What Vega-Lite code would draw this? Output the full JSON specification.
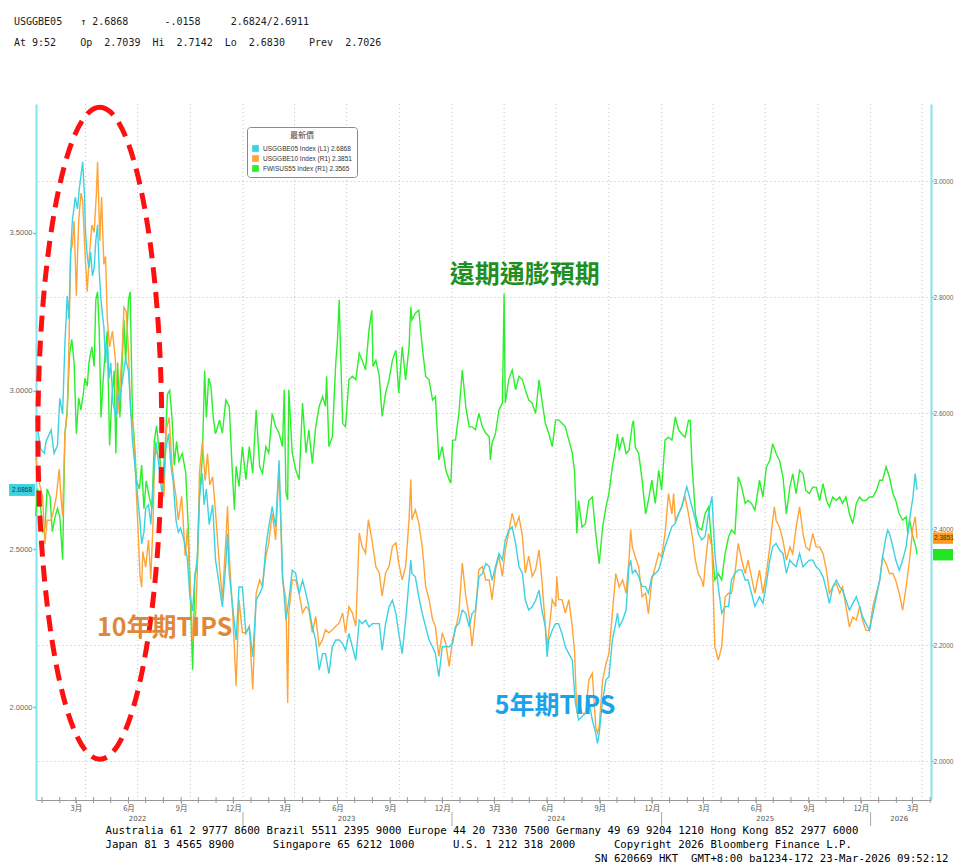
{
"$schema":"https://vega.github.io/schema/vega-lite/v6.json",
"width":895,"height":696,
"autosize":{"type":"none"},
"padding":{"left":36,"top":104,"right":24,"bottom":65},
"background":"#ffffff",
"config":{"view":{"stroke":null},"font":"DejaVu Sans"},
"title":{"text":"USGGBE05\u00a0\u00a0\u00a0↑\u00a02.6868\u00a0\u00a0\u00a0\u00a0\u00a0\u00a0-.0158\u00a0\u00a0\u00a0\u00a0\u00a02.6824/2.6911","subtitle":"At\u00a09:52\u00a0\u00a0\u00a0\u00a0Op\u00a0\u00a02.7039\u00a0\u00a0Hi\u00a0\u00a02.7142\u00a0\u00a0Lo\u00a0\u00a02.6830\u00a0\u00a0\u00a0\u00a0Prev\u00a0\u00a02.7026","anchor":"start","frame":"group","dx":-22,"offset":49,"font":"DejaVu Sans Mono","fontSize":10,"fontWeight":"normal","color":"#1a1a1a","subtitleFont":"DejaVu Sans Mono","subtitleFontSize":10,"subtitleColor":"#1a1a1a","subtitlePadding":11},
"datasets":{
"q":[{"d":"2022-04-01"},{"d":"2022-07-01"},{"d":"2022-10-01"},{"d":"2023-01-01"},{"d":"2023-04-01"},{"d":"2023-07-01"},{"d":"2023-10-01"},{"d":"2024-01-01"},{"d":"2024-04-01"},{"d":"2024-07-01"},{"d":"2024-10-01"},{"d":"2025-01-01"},{"d":"2025-04-01"},{"d":"2025-07-01"},{"d":"2025-10-01"},{"d":"2026-01-01"},{"d":"2026-04-01"}],
"ys":[{"d":"2023-01-01","a":1.9129,"b":1.8888},{"d":"2024-01-01","a":1.9129,"b":1.8888},{"d":"2025-01-01","a":1.9129,"b":1.8888},{"d":"2026-01-01","a":1.9129,"b":1.8888}],
"m":[{"d":"2022-01-15"},{"d":"2022-02-15"},{"d":"2022-03-15"},{"d":"2022-04-15"},{"d":"2022-05-15"},{"d":"2022-06-15"},{"d":"2022-07-15"},{"d":"2022-08-15"},{"d":"2022-09-15"},{"d":"2022-10-15"},{"d":"2022-11-15"},{"d":"2022-12-15"},{"d":"2023-01-15"},{"d":"2023-02-15"},{"d":"2023-03-15"},{"d":"2023-04-15"},{"d":"2023-05-15"},{"d":"2023-06-15"},{"d":"2023-07-15"},{"d":"2023-08-15"},{"d":"2023-09-15"},{"d":"2023-10-15"},{"d":"2023-11-15"},{"d":"2023-12-15"},{"d":"2024-01-15"},{"d":"2024-02-15"},{"d":"2024-03-15"},{"d":"2024-04-15"},{"d":"2024-05-15"},{"d":"2024-06-15"},{"d":"2024-07-15"},{"d":"2024-08-15"},{"d":"2024-09-15"},{"d":"2024-10-15"},{"d":"2024-11-15"},{"d":"2024-12-15"},{"d":"2025-01-15"},{"d":"2025-02-15"},{"d":"2025-03-15"},{"d":"2025-04-15"},{"d":"2025-05-15"},{"d":"2025-06-15"},{"d":"2025-07-15"},{"d":"2025-08-15"},{"d":"2025-09-15"},{"d":"2025-10-15"},{"d":"2025-11-15"},{"d":"2025-12-15"},{"d":"2026-01-15"},{"d":"2026-02-15"},{"d":"2026-03-15"},{"d":"2026-04-15"}],
"yr":[{"d":"2022-07-01","t":"2022"},{"d":"2023-07-01","t":"2023"},{"d":"2024-07-01","t":"2024"},{"d":"2025-07-01","t":"2025"},{"d":"2026-02-20","t":"2026"}],
"c":[{"d":"2022-01-04","v":2.915},{"d":"2022-01-13","v":2.815},{"d":"2022-01-19","v":2.803},{"d":"2022-01-22","v":2.84},{"d":"2022-01-31","v":2.877},{"d":"2022-02-05","v":2.803},{"d":"2022-02-11","v":2.828},{"d":"2022-02-15","v":2.977},{"d":"2022-02-20","v":2.927},{"d":"2022-02-24","v":3.152},{"d":"2022-02-28","v":3.301},{"d":"2022-03-03","v":3.227},{"d":"2022-03-06","v":3.439},{"d":"2022-03-09","v":3.538},{"d":"2022-03-14","v":3.613},{"d":"2022-03-18","v":3.576},{"d":"2022-03-21","v":3.638},{"d":"2022-03-27","v":3.725},{"d":"2022-03-30","v":3.626},{"d":"2022-04-01","v":3.501},{"d":"2022-04-04","v":3.426},{"d":"2022-04-07","v":3.389},{"d":"2022-04-10","v":3.439},{"d":"2022-04-13","v":3.364},{"d":"2022-04-16","v":3.389},{"d":"2022-04-19","v":3.476},{"d":"2022-04-22","v":3.526},{"d":"2022-04-25","v":3.376},{"d":"2022-04-28","v":3.289},{"d":"2022-04-30","v":3.251},{"d":"2022-05-03","v":3.202},{"d":"2022-05-06","v":3.089},{"d":"2022-05-09","v":3.152},{"d":"2022-05-12","v":3.039},{"d":"2022-05-15","v":3.089},{"d":"2022-05-19","v":2.965},{"d":"2022-05-24","v":2.915},{"d":"2022-05-27","v":2.99},{"d":"2022-05-30","v":2.965},{"d":"2022-06-03","v":3.015},{"d":"2022-06-07","v":3.064},{"d":"2022-06-10","v":3.102},{"d":"2022-06-15","v":3.064},{"d":"2022-06-19","v":2.94},{"d":"2022-06-22","v":2.84},{"d":"2022-06-25","v":2.79},{"d":"2022-06-28","v":2.728},{"d":"2022-07-01","v":2.665},{"d":"2022-07-05","v":2.591},{"d":"2022-07-08","v":2.516},{"d":"2022-07-12","v":2.553},{"d":"2022-07-15","v":2.628},{"d":"2022-07-20","v":2.64},{"d":"2022-07-24","v":2.578},{"d":"2022-07-28","v":2.703},{"d":"2022-08-02","v":2.84},{"d":"2022-08-07","v":2.765},{"d":"2022-08-13","v":2.665},{"d":"2022-08-19","v":2.815},{"d":"2022-08-24","v":2.865},{"d":"2022-08-28","v":2.765},{"d":"2022-09-01","v":2.715},{"d":"2022-09-06","v":2.591},{"d":"2022-09-10","v":2.553},{"d":"2022-09-14","v":2.566},{"d":"2022-09-20","v":2.528},{"d":"2022-09-26","v":2.466},{"d":"2022-09-30","v":2.354},{"d":"2022-10-05","v":2.304},{"d":"2022-10-09","v":2.416},{"d":"2022-10-13","v":2.466},{"d":"2022-10-17","v":2.665},{"d":"2022-10-22","v":2.74},{"d":"2022-10-25","v":2.64},{"d":"2022-10-29","v":2.69},{"d":"2022-11-03","v":2.578},{"d":"2022-11-09","v":2.64},{"d":"2022-11-14","v":2.466},{"d":"2022-11-21","v":2.38},{"d":"2022-11-26","v":2.317},{"d":"2022-12-02","v":2.454},{"d":"2022-12-05","v":2.549},{"d":"2022-12-08","v":2.423},{"d":"2022-12-14","v":2.317},{"d":"2022-12-20","v":2.212},{"d":"2022-12-25","v":2.38},{"d":"2022-12-31","v":2.38},{"d":"2023-01-06","v":2.233},{"d":"2023-01-12","v":2.254},{"d":"2023-01-18","v":2.159},{"d":"2023-01-24","v":2.338},{"d":"2023-01-30","v":2.359},{"d":"2023-02-04","v":2.38},{"d":"2023-02-10","v":2.507},{"d":"2023-02-15","v":2.57},{"d":"2023-02-21","v":2.634},{"d":"2023-02-27","v":2.57},{"d":"2023-03-05","v":2.781},{"d":"2023-03-11","v":2.423},{"d":"2023-03-17","v":2.275},{"d":"2023-03-22","v":2.338},{"d":"2023-03-28","v":2.433},{"d":"2023-04-03","v":2.423},{"d":"2023-04-09","v":2.359},{"d":"2023-04-15","v":2.401},{"d":"2023-04-21","v":2.359},{"d":"2023-04-26","v":2.317},{"d":"2023-05-02","v":2.254},{"d":"2023-05-08","v":2.212},{"d":"2023-05-14","v":2.117},{"d":"2023-05-20","v":2.169},{"d":"2023-05-25","v":2.169},{"d":"2023-05-31","v":2.106},{"d":"2023-06-06","v":2.191},{"d":"2023-06-12","v":2.212},{"d":"2023-06-18","v":2.212},{"d":"2023-06-24","v":2.201},{"d":"2023-06-29","v":2.18},{"d":"2023-07-05","v":2.233},{"d":"2023-07-11","v":2.191},{"d":"2023-07-17","v":2.148},{"d":"2023-07-23","v":2.275},{"d":"2023-07-28","v":2.264},{"d":"2023-08-03","v":2.275},{"d":"2023-08-09","v":2.254},{"d":"2023-08-15","v":2.264},{"d":"2023-08-21","v":2.264},{"d":"2023-08-27","v":2.264},{"d":"2023-09-01","v":2.18},{"d":"2023-09-07","v":2.264},{"d":"2023-09-13","v":2.317},{"d":"2023-09-19","v":2.338},{"d":"2023-09-25","v":2.296},{"d":"2023-09-30","v":2.233},{"d":"2023-10-06","v":2.169},{"d":"2023-10-12","v":2.275},{"d":"2023-10-18","v":2.401},{"d":"2023-10-21","v":2.465},{"d":"2023-10-23","v":2.423},{"d":"2023-10-29","v":2.412},{"d":"2023-11-04","v":2.349},{"d":"2023-11-10","v":2.296},{"d":"2023-11-16","v":2.254},{"d":"2023-11-22","v":2.212},{"d":"2023-11-28","v":2.191},{"d":"2023-12-03","v":2.169},{"d":"2023-12-09","v":2.096},{"d":"2023-12-15","v":2.191},{"d":"2023-12-21","v":2.191},{"d":"2023-12-27","v":2.191},{"d":"2024-01-02","v":2.201},{"d":"2024-01-07","v":2.254},{"d":"2024-01-13","v":2.264},{"d":"2024-01-19","v":2.307},{"d":"2024-01-25","v":2.296},{"d":"2024-01-31","v":2.254},{"d":"2024-02-05","v":2.296},{"d":"2024-02-11","v":2.307},{"d":"2024-02-17","v":2.412},{"d":"2024-02-23","v":2.423},{"d":"2024-02-29","v":2.454},{"d":"2024-03-06","v":2.444},{"d":"2024-03-11","v":2.401},{"d":"2024-03-17","v":2.444},{"d":"2024-03-23","v":2.486},{"d":"2024-03-29","v":2.465},{"d":"2024-04-03","v":2.528},{"d":"2024-04-09","v":2.56},{"d":"2024-04-15","v":2.57},{"d":"2024-04-21","v":2.518},{"d":"2024-04-27","v":2.444},{"d":"2024-05-03","v":2.423},{"d":"2024-05-08","v":2.338},{"d":"2024-05-14","v":2.307},{"d":"2024-05-20","v":2.317},{"d":"2024-05-26","v":2.338},{"d":"2024-06-01","v":2.37},{"d":"2024-06-06","v":2.307},{"d":"2024-06-12","v":2.254},{"d":"2024-06-15","v":2.159},{"d":"2024-06-18","v":2.212},{"d":"2024-06-24","v":2.243},{"d":"2024-06-30","v":2.264},{"d":"2024-07-05","v":2.264},{"d":"2024-07-11","v":2.233},{"d":"2024-07-17","v":2.191},{"d":"2024-07-23","v":2.169},{"d":"2024-07-29","v":2.148},{"d":"2024-08-03","v":2.02},{"d":"2024-08-09","v":1.959},{"d":"2024-08-15","v":1.97},{"d":"2024-08-21","v":1.98},{"d":"2024-08-27","v":2.022},{"d":"2024-09-02","v":1.959},{"d":"2024-09-08","v":1.917},{"d":"2024-09-11","v":1.885},{"d":"2024-09-14","v":1.917},{"d":"2024-09-20","v":2.022},{"d":"2024-09-26","v":2.086},{"d":"2024-10-01","v":2.096},{"d":"2024-10-07","v":2.212},{"d":"2024-10-13","v":2.265},{"d":"2024-10-16","v":2.297},{"d":"2024-10-19","v":2.254},{"d":"2024-10-25","v":2.275},{"d":"2024-10-31","v":2.307},{"d":"2024-11-05","v":2.444},{"d":"2024-11-08","v":2.465},{"d":"2024-11-11","v":2.423},{"d":"2024-11-16","v":2.434},{"d":"2024-11-22","v":2.413},{"d":"2024-11-28","v":2.381},{"d":"2024-12-04","v":2.381},{"d":"2024-12-09","v":2.36},{"d":"2024-12-15","v":2.413},{"d":"2024-12-21","v":2.423},{"d":"2024-12-27","v":2.434},{"d":"2025-01-01","v":2.465},{"d":"2025-01-07","v":2.508},{"d":"2025-01-13","v":2.539},{"d":"2025-01-19","v":2.571},{"d":"2025-01-25","v":2.581},{"d":"2025-01-31","v":2.613},{"d":"2025-02-05","v":2.634},{"d":"2025-02-11","v":2.676},{"d":"2025-02-14","v":2.697},{"d":"2025-02-17","v":2.676},{"d":"2025-02-23","v":2.634},{"d":"2025-03-01","v":2.592},{"d":"2025-03-06","v":2.55},{"d":"2025-03-12","v":2.529},{"d":"2025-03-18","v":2.539},{"d":"2025-03-24","v":2.613},{"d":"2025-03-30","v":2.666},{"d":"2025-04-04","v":2.486},{"d":"2025-04-10","v":2.381},{"d":"2025-04-16","v":2.297},{"d":"2025-04-22","v":2.318},{"d":"2025-04-28","v":2.318},{"d":"2025-05-03","v":2.402},{"d":"2025-05-09","v":2.423},{"d":"2025-05-15","v":2.434},{"d":"2025-05-21","v":2.434},{"d":"2025-05-27","v":2.402},{"d":"2025-06-01","v":2.402},{"d":"2025-06-07","v":2.36},{"d":"2025-06-13","v":2.318},{"d":"2025-06-21","v":2.349},{"d":"2025-06-27","v":2.328},{"d":"2025-07-03","v":2.391},{"d":"2025-07-09","v":2.465},{"d":"2025-07-14","v":2.507},{"d":"2025-07-20","v":2.518},{"d":"2025-07-26","v":2.497},{"d":"2025-08-01","v":2.486},{"d":"2025-08-07","v":2.423},{"d":"2025-08-13","v":2.465},{"d":"2025-08-18","v":2.454},{"d":"2025-08-24","v":2.444},{"d":"2025-08-30","v":2.486},{"d":"2025-09-05","v":2.444},{"d":"2025-09-10","v":2.454},{"d":"2025-09-16","v":2.465},{"d":"2025-09-22","v":2.465},{"d":"2025-09-28","v":2.444},{"d":"2025-10-04","v":2.433},{"d":"2025-10-10","v":2.412},{"d":"2025-10-16","v":2.37},{"d":"2025-10-21","v":2.328},{"d":"2025-10-27","v":2.381},{"d":"2025-11-02","v":2.402},{"d":"2025-11-08","v":2.381},{"d":"2025-11-13","v":2.37},{"d":"2025-11-19","v":2.338},{"d":"2025-11-25","v":2.307},{"d":"2025-12-01","v":2.328},{"d":"2025-12-07","v":2.349},{"d":"2025-12-13","v":2.317},{"d":"2025-12-18","v":2.286},{"d":"2025-12-24","v":2.264},{"d":"2025-12-30","v":2.243},{"d":"2026-01-05","v":2.296},{"d":"2026-01-11","v":2.349},{"d":"2026-01-17","v":2.402},{"d":"2026-01-22","v":2.475},{"d":"2026-01-28","v":2.539},{"d":"2026-01-31","v":2.56},{"d":"2026-02-03","v":2.549},{"d":"2026-02-09","v":2.507},{"d":"2026-02-14","v":2.465},{"d":"2026-02-20","v":2.433},{"d":"2026-02-26","v":2.465},{"d":"2026-03-04","v":2.507},{"d":"2026-03-10","v":2.592},{"d":"2026-03-16","v":2.665},{"d":"2026-03-20","v":2.739},{"d":"2026-03-23","v":2.687}],
"o":[{"d":"2022-01-04","v":2.525},{"d":"2022-01-11","v":2.477},{"d":"2022-01-16","v":2.457},{"d":"2022-01-20","v":2.375},{"d":"2022-01-24","v":2.416},{"d":"2022-01-31","v":2.416},{"d":"2022-02-05","v":2.436},{"d":"2022-02-09","v":2.457},{"d":"2022-02-14","v":2.504},{"d":"2022-02-17","v":2.457},{"d":"2022-02-20","v":2.423},{"d":"2022-02-24","v":2.565},{"d":"2022-02-28","v":2.599},{"d":"2022-03-03","v":2.715},{"d":"2022-03-06","v":2.878},{"d":"2022-03-09","v":2.891},{"d":"2022-03-12","v":2.932},{"d":"2022-03-16","v":2.803},{"d":"2022-03-20","v":2.932},{"d":"2022-03-24","v":2.98},{"d":"2022-03-27","v":2.966},{"d":"2022-03-31","v":2.878},{"d":"2022-04-04","v":2.81},{"d":"2022-04-07","v":2.864},{"d":"2022-04-12","v":2.925},{"d":"2022-04-16","v":2.912},{"d":"2022-04-20","v":2.98},{"d":"2022-04-22","v":3.034},{"d":"2022-04-26","v":2.898},{"d":"2022-04-29","v":2.973},{"d":"2022-05-03","v":2.857},{"d":"2022-05-06","v":2.871},{"d":"2022-05-09","v":2.762},{"d":"2022-05-13","v":2.715},{"d":"2022-05-18","v":2.742},{"d":"2022-05-23","v":2.694},{"d":"2022-05-27","v":2.599},{"d":"2022-05-31","v":2.647},{"d":"2022-06-04","v":2.708},{"d":"2022-06-07","v":2.783},{"d":"2022-06-11","v":2.776},{"d":"2022-06-15","v":2.708},{"d":"2022-06-19","v":2.599},{"d":"2022-06-23","v":2.579},{"d":"2022-06-26","v":2.525},{"d":"2022-07-01","v":2.416},{"d":"2022-07-05","v":2.321},{"d":"2022-07-08","v":2.301},{"d":"2022-07-10","v":2.362},{"d":"2022-07-15","v":2.335},{"d":"2022-07-20","v":2.382},{"d":"2022-07-24","v":2.314},{"d":"2022-07-28","v":2.416},{"d":"2022-07-31","v":2.538},{"d":"2022-08-07","v":2.525},{"d":"2022-08-16","v":2.457},{"d":"2022-08-20","v":2.572},{"d":"2022-08-25","v":2.593},{"d":"2022-08-30","v":2.511},{"d":"2022-09-03","v":2.477},{"d":"2022-09-06","v":2.457},{"d":"2022-09-10","v":2.416},{"d":"2022-09-16","v":2.457},{"d":"2022-09-22","v":2.355},{"d":"2022-09-26","v":2.402},{"d":"2022-09-30","v":2.321},{"d":"2022-10-05","v":2.212},{"d":"2022-10-09","v":2.219},{"d":"2022-10-13","v":2.321},{"d":"2022-10-17","v":2.498},{"d":"2022-10-22","v":2.552},{"d":"2022-10-27","v":2.484},{"d":"2022-10-31","v":2.531},{"d":"2022-11-04","v":2.477},{"d":"2022-11-09","v":2.491},{"d":"2022-11-14","v":2.43},{"d":"2022-11-21","v":2.336},{"d":"2022-11-26","v":2.279},{"d":"2022-12-02","v":2.382},{"d":"2022-12-05","v":2.44},{"d":"2022-12-08","v":2.354},{"d":"2022-12-14","v":2.256},{"d":"2022-12-20","v":2.13},{"d":"2022-12-25","v":2.279},{"d":"2022-12-31","v":2.222},{"d":"2023-01-06","v":2.222},{"d":"2023-01-12","v":2.233},{"d":"2023-01-18","v":2.124},{"d":"2023-01-24","v":2.29},{"d":"2023-01-30","v":2.313},{"d":"2023-02-04","v":2.302},{"d":"2023-02-10","v":2.354},{"d":"2023-02-15","v":2.377},{"d":"2023-02-21","v":2.428},{"d":"2023-02-27","v":2.382},{"d":"2023-03-05","v":2.509},{"d":"2023-03-11","v":2.313},{"d":"2023-03-17","v":2.279},{"d":"2023-03-20","v":2.101},{"d":"2023-03-22","v":2.256},{"d":"2023-03-28","v":2.313},{"d":"2023-04-03","v":2.313},{"d":"2023-04-09","v":2.29},{"d":"2023-04-15","v":2.256},{"d":"2023-04-21","v":2.267},{"d":"2023-04-26","v":2.262},{"d":"2023-05-02","v":2.222},{"d":"2023-05-08","v":2.25},{"d":"2023-05-14","v":2.199},{"d":"2023-05-20","v":2.21},{"d":"2023-05-25","v":2.227},{"d":"2023-05-31","v":2.222},{"d":"2023-06-06","v":2.227},{"d":"2023-06-12","v":2.233},{"d":"2023-06-18","v":2.239},{"d":"2023-06-24","v":2.256},{"d":"2023-06-29","v":2.222},{"d":"2023-07-05","v":2.267},{"d":"2023-07-11","v":2.256},{"d":"2023-07-17","v":2.233},{"d":"2023-07-23","v":2.394},{"d":"2023-07-28","v":2.371},{"d":"2023-08-03","v":2.359},{"d":"2023-08-08","v":2.417},{"d":"2023-08-15","v":2.377},{"d":"2023-08-21","v":2.336},{"d":"2023-08-27","v":2.325},{"d":"2023-09-01","v":2.285},{"d":"2023-09-07","v":2.325},{"d":"2023-09-13","v":2.336},{"d":"2023-09-19","v":2.371},{"d":"2023-09-25","v":2.377},{"d":"2023-09-30","v":2.342},{"d":"2023-10-06","v":2.313},{"d":"2023-10-12","v":2.336},{"d":"2023-10-18","v":2.417},{"d":"2023-10-21","v":2.486},{"d":"2023-10-23","v":2.417},{"d":"2023-10-29","v":2.434},{"d":"2023-11-04","v":2.411},{"d":"2023-11-10","v":2.371},{"d":"2023-11-16","v":2.302},{"d":"2023-11-22","v":2.279},{"d":"2023-11-28","v":2.245},{"d":"2023-12-03","v":2.233},{"d":"2023-12-09","v":2.181},{"d":"2023-12-15","v":2.222},{"d":"2023-12-21","v":2.204},{"d":"2023-12-27","v":2.164},{"d":"2024-01-02","v":2.21},{"d":"2024-01-07","v":2.227},{"d":"2024-01-13","v":2.256},{"d":"2024-01-19","v":2.342},{"d":"2024-01-25","v":2.285},{"d":"2024-01-31","v":2.25},{"d":"2024-02-05","v":2.199},{"d":"2024-02-11","v":2.256},{"d":"2024-02-17","v":2.331},{"d":"2024-02-23","v":2.336},{"d":"2024-02-29","v":2.313},{"d":"2024-03-06","v":2.313},{"d":"2024-03-11","v":2.279},{"d":"2024-03-17","v":2.331},{"d":"2024-03-23","v":2.354},{"d":"2024-03-29","v":2.319},{"d":"2024-04-03","v":2.365},{"d":"2024-04-09","v":2.394},{"d":"2024-04-15","v":2.428},{"d":"2024-04-21","v":2.405},{"d":"2024-04-27","v":2.422},{"d":"2024-05-03","v":2.388},{"d":"2024-05-08","v":2.325},{"d":"2024-05-14","v":2.354},{"d":"2024-05-20","v":2.319},{"d":"2024-05-26","v":2.331},{"d":"2024-06-01","v":2.365},{"d":"2024-06-06","v":2.313},{"d":"2024-06-12","v":2.233},{"d":"2024-06-15","v":2.199},{"d":"2024-06-18","v":2.222},{"d":"2024-06-24","v":2.279},{"d":"2024-06-30","v":2.267},{"d":"2024-07-02","v":2.319},{"d":"2024-07-05","v":2.279},{"d":"2024-07-11","v":2.279},{"d":"2024-07-17","v":2.256},{"d":"2024-07-23","v":2.279},{"d":"2024-07-29","v":2.233},{"d":"2024-08-02","v":2.19},{"d":"2024-08-06","v":2.083},{"d":"2024-08-09","v":2.106},{"d":"2024-08-15","v":2.083},{"d":"2024-08-21","v":2.083},{"d":"2024-08-27","v":2.14},{"d":"2024-09-02","v":2.152},{"d":"2024-09-08","v":2.06},{"d":"2024-09-11","v":2.049},{"d":"2024-09-14","v":2.06},{"d":"2024-09-20","v":2.14},{"d":"2024-09-26","v":2.169},{"d":"2024-10-01","v":2.186},{"d":"2024-10-07","v":2.255},{"d":"2024-10-13","v":2.324},{"d":"2024-10-19","v":2.301},{"d":"2024-10-25","v":2.313},{"d":"2024-10-31","v":2.29},{"d":"2024-11-05","v":2.347},{"d":"2024-11-08","v":2.399},{"d":"2024-11-11","v":2.37},{"d":"2024-11-16","v":2.353},{"d":"2024-11-22","v":2.336},{"d":"2024-11-28","v":2.284},{"d":"2024-12-04","v":2.29},{"d":"2024-12-09","v":2.255},{"d":"2024-12-15","v":2.313},{"d":"2024-12-21","v":2.336},{"d":"2024-12-27","v":2.359},{"d":"2025-01-01","v":2.353},{"d":"2025-01-07","v":2.393},{"d":"2025-01-13","v":2.462},{"d":"2025-01-19","v":2.427},{"d":"2025-01-22","v":2.462},{"d":"2025-01-25","v":2.416},{"d":"2025-01-31","v":2.427},{"d":"2025-02-05","v":2.439},{"d":"2025-02-11","v":2.456},{"d":"2025-02-17","v":2.427},{"d":"2025-02-23","v":2.393},{"d":"2025-03-01","v":2.347},{"d":"2025-03-06","v":2.324},{"d":"2025-03-12","v":2.313},{"d":"2025-03-15","v":2.301},{"d":"2025-03-18","v":2.336},{"d":"2025-03-24","v":2.393},{"d":"2025-03-30","v":2.37},{"d":"2025-04-04","v":2.198},{"d":"2025-04-10","v":2.175},{"d":"2025-04-16","v":2.198},{"d":"2025-04-22","v":2.284},{"d":"2025-04-28","v":2.29},{"d":"2025-05-03","v":2.29},{"d":"2025-05-09","v":2.324},{"d":"2025-05-15","v":2.376},{"d":"2025-05-21","v":2.347},{"d":"2025-05-27","v":2.324},{"d":"2025-06-01","v":2.347},{"d":"2025-06-07","v":2.318},{"d":"2025-06-13","v":2.29},{"d":"2025-06-21","v":2.33},{"d":"2025-06-27","v":2.29},{"d":"2025-07-03","v":2.324},{"d":"2025-07-09","v":2.37},{"d":"2025-07-14","v":2.416},{"d":"2025-07-17","v":2.439},{"d":"2025-07-20","v":2.416},{"d":"2025-07-26","v":2.404},{"d":"2025-08-01","v":2.381},{"d":"2025-08-07","v":2.347},{"d":"2025-08-13","v":2.37},{"d":"2025-08-18","v":2.358},{"d":"2025-08-24","v":2.404},{"d":"2025-08-30","v":2.439},{"d":"2025-09-05","v":2.393},{"d":"2025-09-10","v":2.37},{"d":"2025-09-16","v":2.364},{"d":"2025-09-22","v":2.393},{"d":"2025-09-28","v":2.37},{"d":"2025-10-04","v":2.37},{"d":"2025-10-10","v":2.358},{"d":"2025-10-16","v":2.33},{"d":"2025-10-21","v":2.29},{"d":"2025-10-27","v":2.301},{"d":"2025-11-02","v":2.307},{"d":"2025-11-08","v":2.29},{"d":"2025-11-13","v":2.301},{"d":"2025-11-19","v":2.267},{"d":"2025-11-25","v":2.232},{"d":"2025-12-01","v":2.249},{"d":"2025-12-07","v":2.244},{"d":"2025-12-13","v":2.267},{"d":"2025-12-18","v":2.244},{"d":"2025-12-24","v":2.226},{"d":"2025-12-30","v":2.226},{"d":"2026-01-05","v":2.267},{"d":"2026-01-11","v":2.29},{"d":"2026-01-17","v":2.312},{"d":"2026-01-22","v":2.353},{"d":"2026-01-28","v":2.341},{"d":"2026-02-03","v":2.324},{"d":"2026-02-09","v":2.324},{"d":"2026-02-14","v":2.312},{"d":"2026-02-20","v":2.29},{"d":"2026-02-26","v":2.261},{"d":"2026-03-04","v":2.301},{"d":"2026-03-10","v":2.347},{"d":"2026-03-16","v":2.404},{"d":"2026-03-20","v":2.422},{"d":"2026-03-23","v":2.385}],
"g":[{"d":"2022-01-04","v":2.423},{"d":"2022-01-07","v":2.47},{"d":"2022-01-11","v":2.457},{"d":"2022-01-16","v":2.396},{"d":"2022-01-20","v":2.402},{"d":"2022-01-24","v":2.47},{"d":"2022-01-29","v":2.457},{"d":"2022-02-02","v":2.396},{"d":"2022-02-07","v":2.423},{"d":"2022-02-11","v":2.436},{"d":"2022-02-15","v":2.423},{"d":"2022-02-20","v":2.348},{"d":"2022-02-24","v":2.565},{"d":"2022-02-28","v":2.606},{"d":"2022-03-04","v":2.701},{"d":"2022-03-08","v":2.728},{"d":"2022-03-12","v":2.688},{"d":"2022-03-16","v":2.565},{"d":"2022-03-20","v":2.627},{"d":"2022-03-24","v":2.606},{"d":"2022-03-28","v":2.633},{"d":"2022-03-31","v":2.661},{"d":"2022-04-04","v":2.647},{"d":"2022-04-07","v":2.688},{"d":"2022-04-12","v":2.715},{"d":"2022-04-16","v":2.681},{"d":"2022-04-19","v":2.796},{"d":"2022-04-22","v":2.81},{"d":"2022-04-25","v":2.742},{"d":"2022-04-28","v":2.593},{"d":"2022-05-02","v":2.661},{"d":"2022-05-05","v":2.701},{"d":"2022-05-09","v":2.742},{"d":"2022-05-13","v":2.545},{"d":"2022-05-17","v":2.627},{"d":"2022-05-21","v":2.674},{"d":"2022-05-24","v":2.531},{"d":"2022-05-27","v":2.688},{"d":"2022-05-31","v":2.593},{"d":"2022-06-03","v":2.661},{"d":"2022-06-07","v":2.762},{"d":"2022-06-10","v":2.688},{"d":"2022-06-15","v":2.796},{"d":"2022-06-18","v":2.81},{"d":"2022-06-22","v":2.593},{"d":"2022-06-25","v":2.559},{"d":"2022-06-29","v":2.484},{"d":"2022-07-04","v":2.47},{"d":"2022-07-08","v":2.511},{"d":"2022-07-12","v":2.436},{"d":"2022-07-16","v":2.484},{"d":"2022-07-21","v":2.457},{"d":"2022-07-26","v":2.436},{"d":"2022-07-30","v":2.552},{"d":"2022-08-03","v":2.579},{"d":"2022-08-13","v":2.484},{"d":"2022-08-18","v":2.538},{"d":"2022-08-22","v":2.633},{"d":"2022-08-26","v":2.64},{"d":"2022-08-30","v":2.593},{"d":"2022-09-03","v":2.511},{"d":"2022-09-07","v":2.552},{"d":"2022-09-11","v":2.518},{"d":"2022-09-17","v":2.531},{"d":"2022-09-23","v":2.498},{"d":"2022-09-28","v":2.389},{"d":"2022-10-02","v":2.253},{"d":"2022-10-05","v":2.158},{"d":"2022-10-09","v":2.321},{"d":"2022-10-13","v":2.335},{"d":"2022-10-17","v":2.457},{"d":"2022-10-22","v":2.525},{"d":"2022-10-26","v":2.674},{"d":"2022-10-29","v":2.593},{"d":"2022-11-02","v":2.661},{"d":"2022-11-06","v":2.647},{"d":"2022-11-10","v":2.593},{"d":"2022-11-14","v":2.565},{"d":"2022-11-21","v":2.589},{"d":"2022-11-26","v":2.566},{"d":"2022-12-02","v":2.623},{"d":"2022-12-08","v":2.612},{"d":"2022-12-14","v":2.486},{"d":"2022-12-17","v":2.434},{"d":"2022-12-20","v":2.509},{"d":"2022-12-25","v":2.474},{"d":"2022-12-31","v":2.543},{"d":"2023-01-06","v":2.486},{"d":"2023-01-12","v":2.543},{"d":"2023-01-18","v":2.497},{"d":"2023-01-24","v":2.606},{"d":"2023-01-30","v":2.509},{"d":"2023-02-04","v":2.497},{"d":"2023-02-10","v":2.543},{"d":"2023-02-15","v":2.532},{"d":"2023-02-21","v":2.6},{"d":"2023-02-27","v":2.577},{"d":"2023-03-05","v":2.566},{"d":"2023-03-11","v":2.543},{"d":"2023-03-14","v":2.641},{"d":"2023-03-17","v":2.463},{"d":"2023-03-20","v":2.451},{"d":"2023-03-22","v":2.641},{"d":"2023-03-28","v":2.532},{"d":"2023-04-03","v":2.503},{"d":"2023-04-09","v":2.486},{"d":"2023-04-15","v":2.618},{"d":"2023-04-21","v":2.532},{"d":"2023-04-26","v":2.572},{"d":"2023-05-02","v":2.514},{"d":"2023-05-08","v":2.577},{"d":"2023-05-14","v":2.612},{"d":"2023-05-20","v":2.629},{"d":"2023-05-25","v":2.612},{"d":"2023-05-27","v":2.664},{"d":"2023-05-31","v":2.543},{"d":"2023-06-06","v":2.56},{"d":"2023-06-12","v":2.687},{"d":"2023-06-15","v":2.727},{"d":"2023-06-18","v":2.796},{"d":"2023-06-21","v":2.687},{"d":"2023-06-24","v":2.583},{"d":"2023-06-29","v":2.577},{"d":"2023-07-05","v":2.658},{"d":"2023-07-11","v":2.664},{"d":"2023-07-17","v":2.658},{"d":"2023-07-23","v":2.704},{"d":"2023-07-28","v":2.692},{"d":"2023-08-03","v":2.675},{"d":"2023-08-09","v":2.744},{"d":"2023-08-14","v":2.778},{"d":"2023-08-16","v":2.681},{"d":"2023-08-21","v":2.692},{"d":"2023-08-27","v":2.664},{"d":"2023-09-01","v":2.595},{"d":"2023-09-07","v":2.635},{"d":"2023-09-13","v":2.658},{"d":"2023-09-19","v":2.692},{"d":"2023-09-25","v":2.709},{"d":"2023-09-30","v":2.635},{"d":"2023-10-06","v":2.715},{"d":"2023-10-12","v":2.658},{"d":"2023-10-18","v":2.715},{"d":"2023-10-21","v":2.784},{"d":"2023-10-23","v":2.761},{"d":"2023-10-29","v":2.773},{"d":"2023-11-04","v":2.778},{"d":"2023-11-10","v":2.715},{"d":"2023-11-16","v":2.664},{"d":"2023-11-22","v":2.658},{"d":"2023-11-28","v":2.623},{"d":"2023-12-03","v":2.629},{"d":"2023-12-09","v":2.52},{"d":"2023-12-15","v":2.543},{"d":"2023-12-21","v":2.503},{"d":"2023-12-27","v":2.486},{"d":"2023-12-30","v":2.48},{"d":"2024-01-02","v":2.554},{"d":"2024-01-07","v":2.554},{"d":"2024-01-13","v":2.6},{"d":"2024-01-19","v":2.675},{"d":"2024-01-25","v":2.612},{"d":"2024-01-31","v":2.577},{"d":"2024-02-05","v":2.577},{"d":"2024-02-11","v":2.572},{"d":"2024-02-17","v":2.6},{"d":"2024-02-23","v":2.577},{"d":"2024-02-29","v":2.566},{"d":"2024-03-06","v":2.56},{"d":"2024-03-08","v":2.52},{"d":"2024-03-11","v":2.549},{"d":"2024-03-17","v":2.566},{"d":"2024-03-23","v":2.606},{"d":"2024-03-29","v":2.618},{"d":"2024-04-01","v":2.807},{"d":"2024-04-03","v":2.618},{"d":"2024-04-09","v":2.658},{"d":"2024-04-15","v":2.675},{"d":"2024-04-21","v":2.641},{"d":"2024-04-27","v":2.664},{"d":"2024-05-03","v":2.658},{"d":"2024-05-08","v":2.641},{"d":"2024-05-14","v":2.623},{"d":"2024-05-20","v":2.618},{"d":"2024-05-26","v":2.6},{"d":"2024-06-01","v":2.658},{"d":"2024-06-06","v":2.623},{"d":"2024-06-12","v":2.583},{"d":"2024-06-18","v":2.566},{"d":"2024-06-24","v":2.543},{"d":"2024-06-30","v":2.589},{"d":"2024-07-05","v":2.589},{"d":"2024-07-11","v":2.583},{"d":"2024-07-17","v":2.577},{"d":"2024-07-23","v":2.554},{"d":"2024-07-29","v":2.532},{"d":"2024-08-02","v":2.5},{"d":"2024-08-06","v":2.393},{"d":"2024-08-09","v":2.45},{"d":"2024-08-15","v":2.404},{"d":"2024-08-21","v":2.41},{"d":"2024-08-27","v":2.45},{"d":"2024-09-02","v":2.456},{"d":"2024-09-08","v":2.393},{"d":"2024-09-14","v":2.341},{"d":"2024-09-20","v":2.404},{"d":"2024-09-26","v":2.439},{"d":"2024-10-01","v":2.462},{"d":"2024-10-07","v":2.508},{"d":"2024-10-13","v":2.542},{"d":"2024-10-16","v":2.565},{"d":"2024-10-19","v":2.536},{"d":"2024-10-25","v":2.559},{"d":"2024-10-31","v":2.531},{"d":"2024-11-05","v":2.536},{"d":"2024-11-11","v":2.582},{"d":"2024-11-13","v":2.588},{"d":"2024-11-16","v":2.542},{"d":"2024-11-22","v":2.531},{"d":"2024-11-28","v":2.485},{"d":"2024-12-04","v":2.427},{"d":"2024-12-09","v":2.45},{"d":"2024-12-15","v":2.485},{"d":"2024-12-21","v":2.445},{"d":"2024-12-27","v":2.502},{"d":"2025-01-01","v":2.468},{"d":"2025-01-07","v":2.554},{"d":"2025-01-13","v":2.559},{"d":"2025-01-19","v":2.554},{"d":"2025-01-25","v":2.594},{"d":"2025-01-31","v":2.571},{"d":"2025-02-05","v":2.565},{"d":"2025-02-11","v":2.559},{"d":"2025-02-17","v":2.588},{"d":"2025-02-20","v":2.588},{"d":"2025-02-23","v":2.514},{"d":"2025-03-01","v":2.427},{"d":"2025-03-06","v":2.404},{"d":"2025-03-12","v":2.399},{"d":"2025-03-18","v":2.427},{"d":"2025-03-24","v":2.439},{"d":"2025-03-30","v":2.37},{"d":"2025-04-04","v":2.313},{"d":"2025-04-10","v":2.324},{"d":"2025-04-16","v":2.313},{"d":"2025-04-22","v":2.359},{"d":"2025-04-28","v":2.387},{"d":"2025-05-03","v":2.399},{"d":"2025-05-09","v":2.393},{"d":"2025-05-15","v":2.491},{"d":"2025-05-21","v":2.473},{"d":"2025-05-27","v":2.445},{"d":"2025-06-01","v":2.45},{"d":"2025-06-07","v":2.445},{"d":"2025-06-13","v":2.433},{"d":"2025-06-21","v":2.485},{"d":"2025-06-27","v":2.456},{"d":"2025-07-03","v":2.508},{"d":"2025-07-09","v":2.519},{"d":"2025-07-14","v":2.548},{"d":"2025-07-20","v":2.531},{"d":"2025-07-26","v":2.519},{"d":"2025-08-01","v":2.49},{"d":"2025-08-07","v":2.427},{"d":"2025-08-13","v":2.473},{"d":"2025-08-18","v":2.496},{"d":"2025-08-24","v":2.462},{"d":"2025-08-30","v":2.502},{"d":"2025-09-05","v":2.496},{"d":"2025-09-10","v":2.467},{"d":"2025-09-16","v":2.462},{"d":"2025-09-22","v":2.473},{"d":"2025-09-28","v":2.473},{"d":"2025-10-04","v":2.45},{"d":"2025-10-10","v":2.479},{"d":"2025-10-16","v":2.45},{"d":"2025-10-21","v":2.439},{"d":"2025-10-27","v":2.456},{"d":"2025-11-02","v":2.45},{"d":"2025-11-08","v":2.456},{"d":"2025-11-13","v":2.445},{"d":"2025-11-19","v":2.456},{"d":"2025-11-25","v":2.427},{"d":"2025-12-01","v":2.41},{"d":"2025-12-07","v":2.445},{"d":"2025-12-13","v":2.456},{"d":"2025-12-18","v":2.45},{"d":"2025-12-24","v":2.45},{"d":"2025-12-30","v":2.456},{"d":"2026-01-05","v":2.456},{"d":"2026-01-11","v":2.467},{"d":"2026-01-17","v":2.485},{"d":"2026-01-22","v":2.485},{"d":"2026-01-28","v":2.508},{"d":"2026-02-03","v":2.49},{"d":"2026-02-09","v":2.462},{"d":"2026-02-14","v":2.45},{"d":"2026-02-20","v":2.427},{"d":"2026-02-26","v":2.416},{"d":"2026-03-04","v":2.422},{"d":"2026-03-07","v":2.393},{"d":"2026-03-10","v":2.416},{"d":"2026-03-16","v":2.387},{"d":"2026-03-21","v":2.37},{"d":"2026-03-23","v":2.357}]
},
"resolve":{"scale":{"y":"independent"}},
"layer":[
 {"data":{"name":"q"},"mark":{"type":"rule","strokeDash":[1,3],"color":"#c4c4c4","strokeWidth":1},
  "encoding":{"x":{"field":"d","type":"temporal","scale":{"type":"utc","domain":[{"year":2022,"month":1,"date":4,"hours":12,"utc":true},{"year":2026,"month":4,"date":16,"hours":12,"utc":true}]}}}},
 {"data":{"name":"g"},"mark":{"type":"line","strokeWidth":1.4},
  "encoding":{"x":{"field":"d","type":"temporal","scale":{"type":"utc","domain":[{"year":2022,"month":1,"date":4,"hours":12,"utc":true},{"year":2026,"month":4,"date":16,"hours":12,"utc":true}]},
    "axis":{"values":[{"year":2022,"month":3,"date":15,"utc":true},{"year":2022,"month":6,"date":15,"utc":true},{"year":2022,"month":9,"date":15,"utc":true},{"year":2022,"month":12,"date":15,"utc":true},{"year":2023,"month":3,"date":15,"utc":true},{"year":2023,"month":6,"date":15,"utc":true},{"year":2023,"month":9,"date":15,"utc":true},{"year":2023,"month":12,"date":15,"utc":true},{"year":2024,"month":3,"date":15,"utc":true},{"year":2024,"month":6,"date":15,"utc":true},{"year":2024,"month":9,"date":15,"utc":true},{"year":2024,"month":12,"date":15,"utc":true},{"year":2025,"month":3,"date":15,"utc":true},{"year":2025,"month":6,"date":15,"utc":true},{"year":2025,"month":9,"date":15,"utc":true},{"year":2025,"month":12,"date":15,"utc":true},{"year":2026,"month":3,"date":15,"utc":true}],
    "labelExpr":"(utcmonth(datum.value) + 1) + '月'",
    "title":null,"domainColor":"#999999","domainWidth":1,"tickSize":3,"tickColor":"#999999",
    "labelFont":"Noto Sans CJK TC","labelFontSize":7.5,"labelColor":"#555555","labelPadding":1,"labelOverlap":false,"labelFlush":false,"grid":false}},
   "y":{"field":"v","type":"quantitative","scale":{"domain":[1.9336,3.1336],"nice":false,"zero":false},
    "axis":{"orient":"right","values":[2.0,2.2,2.4,2.6,2.8,3.0],"format":".4f","title":null,"grid":true,"gridDash":[1,3],"gridColor":"#bdbdbd","gridWidth":1,"domainColor":"#86e3ec","domainWidth":2,"tickColor":"#3cc8d8","tickSize":2,"tickWidth":1.5,"labelFontSize":6.5,"labelColor":"#666666","labelPadding":0,"labelFont":"Liberation Sans"}},
   "color":{"datum":"FWISUS55 Index (R1) 2.3565","scale":{"domain":["USGGBE05 Index (L1) 2.6868","USGGBE10 Index (R1) 2.3851","FWISUS55 Index (R1) 2.3565"],"range":["#3dd2e0","#ffa436","#2bef2b"]},
    "legend":{"title":"最新價","orient":"none","legendX":211,"legendY":23,"symbolType":"square","symbolSize":45,"symbolStrokeWidth":0,"labelFont":"Liberation Sans","labelFontSize":6.5,"labelColor":"#333333","titleFont":"Noto Sans CJK TC","titleFontSize":8,"titleFontWeight":"normal","titleAnchor":"middle","titleColor":"#444444","padding":5,"rowPadding":3,"strokeColor":"#8a8a8a","fillColor":"#ffffff","cornerRadius":3,
     "encode":{"symbols":{"update":{"fill":{"scale":"color","field":"value"},"fillOpacity":{"value":1}}}}}}}},
 {"data":{"name":"o"},"mark":{"type":"line","strokeWidth":1.4},
  "encoding":{"x":{"field":"d","type":"temporal","scale":{"type":"utc","domain":[{"year":2022,"month":1,"date":4,"hours":12,"utc":true},{"year":2026,"month":4,"date":16,"hours":12,"utc":true}]}},
   "y":{"field":"v","type":"quantitative","scale":{"domain":[1.9336,3.1336],"nice":false,"zero":false},"axis":null},
   "color":{"datum":"USGGBE10 Index (R1) 2.3851"}}},
 {"data":{"name":"c"},"mark":{"type":"line","strokeWidth":1.4},
  "encoding":{"x":{"field":"d","type":"temporal","scale":{"type":"utc","domain":[{"year":2022,"month":1,"date":4,"hours":12,"utc":true},{"year":2026,"month":4,"date":16,"hours":12,"utc":true}]}},
   "y":{"field":"v","type":"quantitative","scale":{"domain":[1.706,3.908],"nice":false,"zero":false},
    "axis":{"orient":"left","values":[2.0,2.5,3.0,3.5],"format":".4f","title":null,"grid":false,"domainColor":"#86e3ec","domainWidth":2,"tickColor":"#3cc8d8","tickSize":3,"tickWidth":1.5,"labelFontSize":7.5,"labelColor":"#666666","labelPadding":1,"labelFont":"Liberation Sans"}},
   "color":{"datum":"USGGBE05 Index (L1) 2.6868"}}},
 {"data":{"values":[{"d":"2022-04-26","v":2.566}]},
  "mark":{"type":"point","shape":"M0,-1C0.105,-1,0.19,-0.552,0.19,0C0.19,0.552,0.105,1,0,1C-0.105,1,-0.19,0.552,-0.19,0C-0.19,-0.552,-0.105,-1,0,-1Z","filled":false,"size":425104,"stroke":"#ff1010","strokeWidth":5,"strokeDash":[16,9],"opacity":1,"clip":false},
  "encoding":{"x":{"field":"d","type":"temporal","scale":{"type":"utc","domain":[{"year":2022,"month":1,"date":4,"hours":12,"utc":true},{"year":2026,"month":4,"date":16,"hours":12,"utc":true}]}},
   "y":{"field":"v","type":"quantitative","scale":{"domain":[1.9336,3.1336],"nice":false,"zero":false},"axis":null}}},
 {"data":{"values":[{"d":"2024-05-07","v":2.839,"t":"遠期通膨預期"}]},
  "mark":{"type":"text","font":"Noto Sans CJK TC","fontSize":25,"fontWeight":"bold","color":"#1f8f22","align":"center","baseline":"middle"},
  "encoding":{"x":{"field":"d","type":"temporal","scale":{"type":"utc","domain":[{"year":2022,"month":1,"date":4,"hours":12,"utc":true},{"year":2026,"month":4,"date":16,"hours":12,"utc":true}]}},
   "y":{"field":"v","type":"quantitative","scale":{"domain":[1.9336,3.1336],"nice":false,"zero":false},"axis":null},"text":{"field":"t"}}},
 {"data":{"values":[{"d":"2022-08-17","v":2.23,"t":"10年期TIPS"}]},
  "mark":{"type":"text","font":"Noto Sans CJK TC","fontSize":25,"fontWeight":"bold","color":"#e0883a","align":"center","baseline":"middle"},
  "encoding":{"x":{"field":"d","type":"temporal","scale":{"type":"utc","domain":[{"year":2022,"month":1,"date":4,"hours":12,"utc":true},{"year":2026,"month":4,"date":16,"hours":12,"utc":true}]}},
   "y":{"field":"v","type":"quantitative","scale":{"domain":[1.9336,3.1336],"nice":false,"zero":false},"axis":null},"text":{"field":"t"}}},
 {"data":{"values":[{"d":"2024-06-29","v":2.0957,"t":"5年期TIPS"}]},
  "mark":{"type":"text","font":"Noto Sans CJK TC","fontSize":25,"fontWeight":"bold","color":"#1aa3e8","align":"center","baseline":"middle"},
  "encoding":{"x":{"field":"d","type":"temporal","scale":{"type":"utc","domain":[{"year":2022,"month":1,"date":4,"hours":12,"utc":true},{"year":2026,"month":4,"date":16,"hours":12,"utc":true}]}},
   "y":{"field":"v","type":"quantitative","scale":{"domain":[1.9336,3.1336],"nice":false,"zero":false},"axis":null},"text":{"field":"t"}}},
 {"data":{"values":[{"d":"2026-04-16T12:00:00Z","v":2.3565}]},
  "mark":{"type":"point","shape":"M0.09,-0.26H1V0.26H0.09Z","filled":true,"size":1936,"opacity":1,"strokeWidth":0,"color":"#22e622","clip":false},
  "encoding":{"x":{"field":"d","type":"temporal","scale":{"type":"utc","domain":[{"year":2022,"month":1,"date":4,"hours":12,"utc":true},{"year":2026,"month":4,"date":16,"hours":12,"utc":true}]}},
   "y":{"field":"v","type":"quantitative","scale":{"domain":[1.9336,3.1336],"nice":false,"zero":false},"axis":null}}},
 {"data":{"values":[{"d":"2026-04-16T12:00:00Z","v":2.3851}]},
  "mark":{"type":"point","shape":"M0.09,-0.26H1V0.26H0.09Z","filled":true,"size":1936,"opacity":1,"strokeWidth":0,"color":"#ff9a1f","clip":false},
  "encoding":{"x":{"field":"d","type":"temporal","scale":{"type":"utc","domain":[{"year":2022,"month":1,"date":4,"hours":12,"utc":true},{"year":2026,"month":4,"date":16,"hours":12,"utc":true}]}},
   "y":{"field":"v","type":"quantitative","scale":{"domain":[1.9336,3.1336],"nice":false,"zero":false},"axis":null}}},
 {"data":{"values":[{"d":"2026-04-16T12:00:00Z","v":2.3851,"t":"2.3851"}]},
  "mark":{"type":"text","font":"Liberation Sans","fontSize":6.5,"color":"#4a2a00","align":"left","baseline":"middle","dx":3,"clip":false},
  "encoding":{"x":{"field":"d","type":"temporal","scale":{"type":"utc","domain":[{"year":2022,"month":1,"date":4,"hours":12,"utc":true},{"year":2026,"month":4,"date":16,"hours":12,"utc":true}]}},
   "y":{"field":"v","type":"quantitative","scale":{"domain":[1.9336,3.1336],"nice":false,"zero":false},"axis":null},"text":{"field":"t"}}},
 {"data":{"values":[{"d":"2022-01-04T12:00:00Z","v":2.6868}]},
  "mark":{"type":"point","shape":"M-1,-0.22H-0.04V0.22H-1Z","filled":true,"size":2916,"opacity":1,"strokeWidth":0,"color":"#3dd2e0","clip":false},
  "encoding":{"x":{"field":"d","type":"temporal","scale":{"type":"utc","domain":[{"year":2022,"month":1,"date":4,"hours":12,"utc":true},{"year":2026,"month":4,"date":16,"hours":12,"utc":true}]}},
   "y":{"field":"v","type":"quantitative","scale":{"domain":[1.706,3.908],"nice":false,"zero":false},"axis":null}}},
 {"data":{"values":[{"d":"2022-01-04T12:00:00Z","v":2.6868,"t":"2.6868"}]},
  "mark":{"type":"text","font":"Liberation Sans","fontSize":6.5,"color":"#0d3d44","align":"right","baseline":"middle","dx":-4,"clip":false},
  "encoding":{"x":{"field":"d","type":"temporal","scale":{"type":"utc","domain":[{"year":2022,"month":1,"date":4,"hours":12,"utc":true},{"year":2026,"month":4,"date":16,"hours":12,"utc":true}]}},
   "y":{"field":"v","type":"quantitative","scale":{"domain":[1.706,3.908],"nice":false,"zero":false},"axis":null},"text":{"field":"t"}}},
 {"data":{"name":"m"},
  "mark":{"type":"tick","orient":"vertical","size":6,"thickness":1,"color":"#999999","opacity":1,"clip":false},
  "encoding":{"x":{"field":"d","type":"temporal","scale":{"type":"utc","domain":[{"year":2022,"month":1,"date":4,"hours":12,"utc":true},{"year":2026,"month":4,"date":16,"hours":12,"utc":true}]}},
   "y":{"datum":1.9336,"type":"quantitative","scale":{"domain":[1.9336,3.1336],"nice":false,"zero":false},"axis":null}}},
 {"data":{"name":"ys"},
  "mark":{"type":"rule","color":"#aaaaaa","strokeWidth":1,"clip":false},
  "encoding":{"x":{"field":"d","type":"temporal","scale":{"type":"utc","domain":[{"year":2022,"month":1,"date":4,"hours":12,"utc":true},{"year":2026,"month":4,"date":16,"hours":12,"utc":true}]}},
   "y":{"field":"a","type":"quantitative","scale":{"domain":[1.9336,3.1336],"nice":false,"zero":false},"axis":null},"y2":{"field":"b"}}},
 {"data":{"name":"yr"},
  "mark":{"type":"text","font":"DejaVu Sans","fontSize":7,"color":"#555555","align":"center","baseline":"middle","dy":19,"clip":false},
  "encoding":{"x":{"field":"d","type":"temporal","scale":{"type":"utc","domain":[{"year":2022,"month":1,"date":4,"hours":12,"utc":true},{"year":2026,"month":4,"date":16,"hours":12,"utc":true}]}},
   "y":{"datum":1.9336,"type":"quantitative","scale":{"domain":[1.9336,3.1336],"nice":false,"zero":false},"axis":null},"text":{"field":"t"}}},
 {"data":{"values":[{"d":"2022-05-06"}]},
  "mark":{"type":"text","font":"DejaVu Sans Mono","fontSize":10.7,"color":"#000000","align":"left","baseline":"alphabetic","dy":34,"lineHeight":14,"clip":false,
   "text":["Australia 61 2 9777 8600 Brazil 5511 2395 9000 Europe 44 20 7330 7500 Germany 49 69 9204 1210 Hong Kong 852 2977 6000","Japan 81 3 4565 8900\u00a0\u00a0\u00a0\u00a0\u00a0\u00a0Singapore 65 6212 1000\u00a0\u00a0\u00a0\u00a0\u00a0\u00a0U.S. 1 212 318 2000\u00a0\u00a0\u00a0\u00a0\u00a0\u00a0Copyright 2026 Bloomberg Finance L.P.","\u200b\u00a0\u00a0\u00a0\u00a0\u00a0\u00a0\u00a0\u00a0\u00a0\u00a0\u00a0\u00a0\u00a0\u00a0\u00a0\u00a0\u00a0\u00a0\u00a0\u00a0\u00a0\u00a0\u00a0\u00a0\u00a0\u00a0\u00a0\u00a0\u00a0\u00a0\u00a0\u00a0\u00a0\u00a0\u00a0\u00a0\u00a0\u00a0\u00a0\u00a0\u00a0\u00a0\u00a0\u00a0\u00a0\u00a0\u00a0\u00a0\u00a0\u00a0\u00a0\u00a0\u00a0\u00a0\u00a0\u00a0\u00a0\u00a0\u00a0\u00a0\u00a0\u00a0\u00a0\u00a0\u00a0\u00a0\u00a0\u00a0\u00a0\u00a0\u00a0\u00a0\u00a0\u00a0\u00a0\u00a0SN 620669 HKT\u00a0\u00a0GMT+8:00 ba1234-172 23-Mar-2026 09:52:12"]},
  "encoding":{"x":{"field":"d","type":"temporal","scale":{"type":"utc","domain":[{"year":2022,"month":1,"date":4,"hours":12,"utc":true},{"year":2026,"month":4,"date":16,"hours":12,"utc":true}]}},
   "y":{"datum":1.9336,"type":"quantitative","scale":{"domain":[1.9336,3.1336],"nice":false,"zero":false},"axis":null}}}
]
}
